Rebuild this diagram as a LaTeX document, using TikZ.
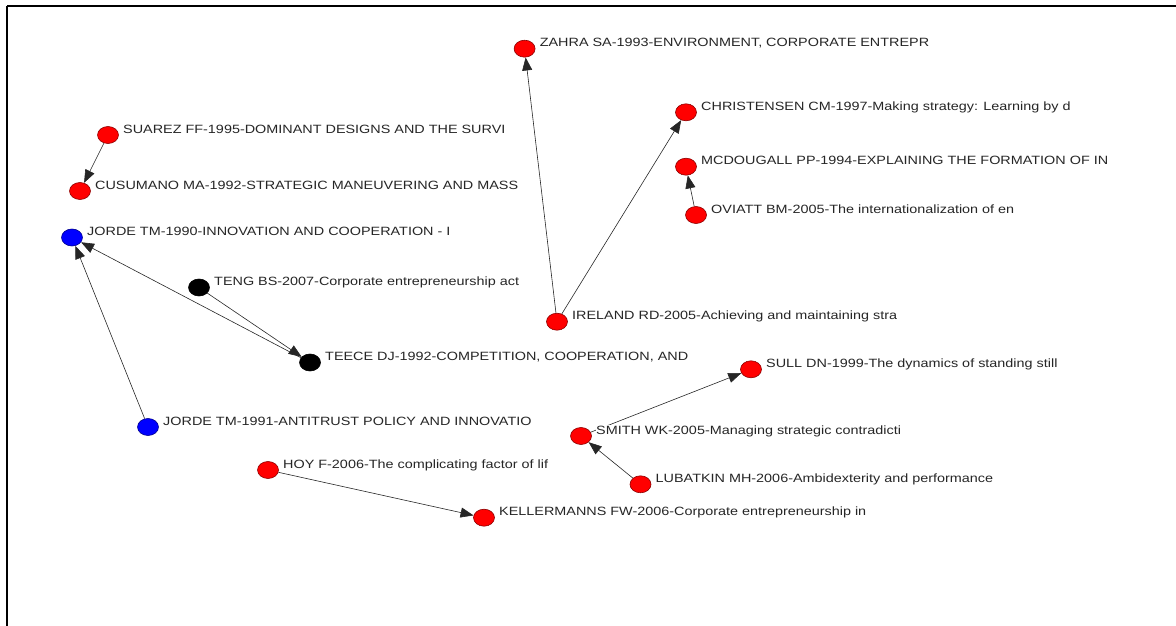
\documentclass[tikz,border=0pt]{standalone}
\usepackage{fontspec}
\setmainfont{Liberation Sans}[FakeStretch=1.2]
\usetikzlibrary{arrows.meta,shapes.geometric}
\pgfdeclarelayer{edges}
\pgfsetlayers{edges,main}
\begin{document}
\begin{tikzpicture}[x=1pt,y=-1pt,
  dot/.style={ellipse,minimum width=21pt,minimum height=17pt,inner sep=0pt,line width=0.6pt},
  reddot/.style={dot,fill=red,draw=red!55!black},
  bluedot/.style={dot,fill=blue,draw=blue!55!black},
  blackdot/.style={dot,fill=black,draw=black},
  lbl/.style={anchor=base west,inner sep=0pt,fill=white,text=black!85,
              font=\fontsize{12}{14}\selectfont},
  cite/.style={line width=0.6pt,draw=black!85,-{Triangle[length=13pt,width=10pt]}}]
\useasboundingbox (0,0) rectangle (1176,626);
% frame (top and left sides only)
\draw[line width=2.2pt] (7,6) -- (1176,6);
\draw[line width=2.2pt] (7,6) -- (7,626);
% papers: name / x / y / style / label
\foreach \n/\x/\y/\s/\t in {
  suarez/108/135/reddot/{SUAREZ FF-1995-DOMINANT DESIGNS AND THE SURVI},
  cusumano/80/191/reddot/{CUSUMANO MA-1992-STRATEGIC MANEUVERING AND MASS},
  jordeA/72/237.5/bluedot/{JORDE TM-1990-INNOVATION AND COOPERATION - I},
  teng/199/287.5/blackdot/{TENG BS-2007-Corporate entrepreneurship act},
  teece/310/362.5/blackdot/{TEECE DJ-1992-COMPETITION, COOPERATION, AND},
  jordeB/148/427/bluedot/{JORDE TM-1991-ANTITRUST POLICY AND INNOVATIO},
  zahra/524.6/48.7/reddot/{ZAHRA SA-1993-ENVIRONMENT, CORPORATE ENTREPR},
  christensen/686/112.3/reddot/{CHRISTENSEN CM-1997-Making strategy: Learning by d},
  mcdougall/686/166.7/reddot/{MCDOUGALL PP-1994-EXPLAINING THE FORMATION OF IN},
  oviatt/696/215/reddot/{OVIATT BM-2005-The internationalization of en},
  ireland/557/321.7/reddot/{IRELAND RD-2005-Achieving and maintaining stra},
  sull/751/369.3/reddot/{SULL DN-1999-The dynamics of standing still},
  smith/581/436/reddot/{SMITH WK-2005-Managing strategic contradicti},
  lubatkin/640.5/484.3/reddot/{LUBATKIN MH-2006-Ambidexterity and performance},
  hoy/268/470/reddot/{HOY F-2006-The complicating factor of lif},
  kellermanns/484/517.7/reddot/{KELLERMANNS FW-2006-Corporate entrepreneurship in}}
{
  \node[\s] (\n) at (\x,\y) {};
  \node[lbl] (\n-l) at ([shift={(15,-2)}]\n.center) {\t};
}
% citation links, kept underneath the labels
\begin{pgfonlayer}{edges}
  \draw[cite] (suarez) -- (cusumano);
  \draw[cite] (jordeB) -- (jordeA);
  \draw[cite] (teece) -- (jordeA);
  \draw[cite] (teng) -- (teece);
  \draw[cite] (ireland) -- (zahra);
  \draw[cite] (ireland) -- (christensen);
  \draw[cite] (oviatt) -- (mcdougall);
  \draw[cite] (smith) -- (sull);
  \draw[cite] (lubatkin) -- (smith);
  \draw[cite] (hoy) -- (kellermanns);
\end{pgfonlayer}
\end{tikzpicture}
\end{document}
